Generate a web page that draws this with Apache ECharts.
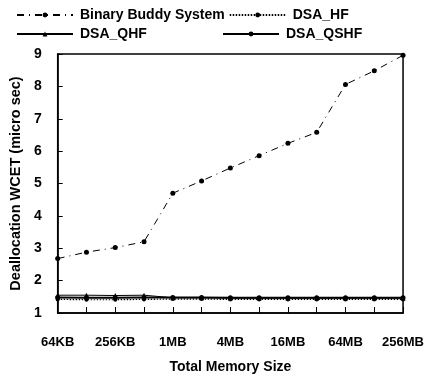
<!DOCTYPE html>
<html><head><meta charset="utf-8">
<script src="https://cdn.jsdelivr.net/npm/echarts@6/dist/echarts.min.js"></script>
<style>html,body{margin:0;padding:0;background:#fff}#c{width:427px;height:379px}</style>
</head><body><div id="c"></div>
<script>
const categories = ['64KB','128KB','256KB','512KB','1MB','2MB','4MB','8MB','16MB','32MB','64MB','128MB','256MB'];
const binaryBuddy = [2.68, 2.88, 3.02, 3.2, 4.7, 5.08, 5.48, 5.86, 6.24, 6.58, 8.06, 8.48, 8.96];
const dsaHF = [1.42, 1.41, 1.41, 1.42, 1.43, 1.43, 1.42, 1.42, 1.42, 1.42, 1.42, 1.42, 1.42];
const dsaQHF = [1.55, 1.55, 1.54, 1.55, 1.47, 1.47, 1.46, 1.46, 1.46, 1.46, 1.46, 1.46, 1.46];
const dsaQSHF = [1.48, 1.47, 1.47, 1.48, 1.48, 1.48, 1.47, 1.47, 1.47, 1.47, 1.47, 1.47, 1.47];
const yTicks = {min: 1, max: 9, interval: 1};

const font = 'Liberation Sans';
const chart = echarts.init(document.getElementById('c'), null, {renderer: 'canvas'});
const legendText = {fontFamily: font, fontWeight: 'bold', fontSize: 14, color: '#000', padding: [0, 0, 0, 2]};
chart.setOption({
  backgroundColor: '#fff',
  animation: false,
  legend: [
    {data: ['Binary Buddy System', 'DSA_HF'], left: 16, top: 8, itemWidth: 56, itemHeight: 6, itemGap: 4, textStyle: legendText, padding: 0},
    {data: ['DSA_QHF'], left: 16, top: 27, itemWidth: 56, itemHeight: 6, textStyle: legendText, padding: 0},
    {data: ['DSA_QSHF'], left: 222, top: 27, itemWidth: 56, itemHeight: 6, textStyle: legendText, padding: 0}
  ],
  grid: {left: 46, right: 23, top: 54, bottom: 61, show: true, borderColor: '#000', borderWidth: 1.5, backgroundColor: 'transparent'},
  xAxis: {
    type: 'category', data: categories, boundaryGap: false,
    name: 'Total Memory Size', nameLocation: 'middle', nameGap: 47,
    nameTextStyle: {fontFamily: font, fontWeight: 'bold', fontSize: 14, color: '#000'},
    axisLine: {lineStyle: {color: '#000', width: 1.5}},
    axisTick: {inside: true, length: 6, interval: 0, lineStyle: {color: '#000'}},
    axisLabel: {interval: 1, margin: 23, fontFamily: font, fontWeight: 'bold', fontSize: 13, color: '#000', showMaxLabel: true},
    splitLine: {show: false}
  },
  yAxis: {
    type: 'value', min: yTicks.min, max: yTicks.max, interval: yTicks.interval,
    name: 'Deallocation WCET (micro sec)', nameLocation: 'middle', nameGap: 33, nameRotate: 90,
    nameTextStyle: {fontFamily: font, fontWeight: 'bold', fontSize: 14.5, color: '#000'},
    axisLine: {show: true, lineStyle: {color: '#000', width: 1.5}},
    axisTick: {show: true, inside: true, length: 5, lineStyle: {color: '#000'}},
    axisLabel: {margin: 16, fontFamily: font, fontWeight: 'bold', fontSize: 14, color: '#000'},
    splitLine: {show: false}
  },
  series: [
    {name: 'Binary Buddy System', type: 'line', data: binaryBuddy, symbol: 'circle', symbolSize: 5,
     itemStyle: {color: '#000'}, lineStyle: {color: '#000', width: 1, type: [7, 5, 1, 5]}},
    {name: 'DSA_HF', type: 'line', data: dsaHF, symbol: 'circle', symbolSize: 4,
     itemStyle: {color: '#000'}, lineStyle: {color: '#000', width: 1.2, type: [1.5, 1.5]}},
    {name: 'DSA_QHF', type: 'line', data: dsaQHF, symbol: 'triangle', symbolSize: 5,
     itemStyle: {color: '#000'}, lineStyle: {color: '#000', width: 1}},
    {name: 'DSA_QSHF', type: 'line', data: dsaQSHF, symbol: 'circle', symbolSize: 5,
     itemStyle: {color: '#000'}, lineStyle: {color: '#000', width: 2}}
  ]
});
</script></body></html>
